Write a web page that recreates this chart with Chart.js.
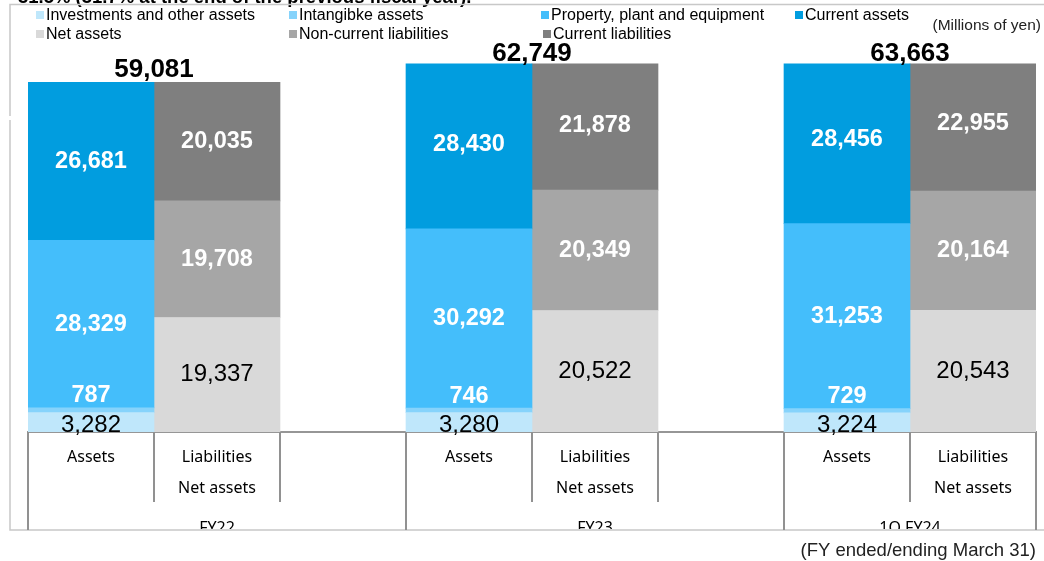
<!DOCTYPE html>
<html>
<head>
<meta charset="utf-8">
<script src="https://cdn.jsdelivr.net/npm/chart.js@4.4.1/dist/chart.umd.min.js"></script>
<style>
  html, body { margin: 0; padding: 0; background: #fff; }
  #wrap { position: relative; width: 1044px; height: 561px; }
</style>
</head>
<body>
<div id="wrap"><canvas id="c" width="1044" height="561"></canvas></div>
<script>
// ---- data (millions of yen) ----
const periods = ['FY22', 'FY23', '1Q FY24'];
const investments = [3282, 3280, 3224];
const intangible = [787, 746, 729];
const ppe = [28329, 30292, 31253];
const currentAssets = [26681, 28430, 28456];
const netAssets = [19337, 20522, 20543];
const nonCurrentLiab = [19708, 20349, 20164];
const currentLiab = [20035, 21878, 22955];
const totals = [59081, 62749, 63663];
const sideLabels = ['Assets', ['Liabilities', 'Net assets']];
const seriesNames = ['Investments and other assets', 'Intangibke assets', 'Property, plant and equipment', 'Current assets',
                     'Net assets', 'Non-current liabilities', 'Current liabilities'];
const titleText = '31.5% (31.7% at the end of the previous fiscal year).';
const unitText = '(Millions of yen)';
const noteText = '(FY ended/ending March 31)';

// ---- build category slots ----
const labels = [];
periods.forEach((p, i) => {
  labels.push(sideLabels[0], sideLabels[1]);
  if (i < periods.length - 1) labels.push('');
});
function slotData(arr, side) {
  const out = new Array(labels.length).fill(null);
  arr.forEach((v, i) => { out[i * 3 + side] = v; });
  return out;
}
const colors = ['#bfe7fb', '#86d3fb', '#44befb', '#019ddf', '#d9d9d9', '#a6a6a6', '#7f7f7f'];
const seriesArrays = [investments, intangible, ppe, currentAssets, netAssets, nonCurrentLiab, currentLiab];
const sides = [0, 0, 0, 0, 1, 1, 1];
const labelStyle = ['dark', 'above', 'white', 'white', 'dark', 'white', 'white'];

const datasets = seriesArrays.map((arr, k) => ({
  label: seriesNames[k],
  data: slotData(arr, sides[k]),
  backgroundColor: colors[k],
  borderWidth: 0,
  barPercentage: 1.0,
  categoryPercentage: 1.0,
  stack: 's'
}));

const fmt = v => v.toLocaleString('en-US');
const ARIAL = "'Liberation Sans', Arial, sans-serif";
const TICKFONT = "'Noto Sans', sans-serif";

const overlay = {
  id: 'overlay',
  afterDatasetsDraw(chart) {
    const ctx = chart.ctx;
    ctx.save();
    ctx.textAlign = 'center';
    ctx.textBaseline = 'middle';
    chart.data.datasets.forEach((ds, k) => {
      const meta = chart.getDatasetMeta(k);
      meta.data.forEach((el, i) => {
        const v = ds.data[i];
        if (v == null) return;
        const style = labelStyle[k];
        let y = (el.y + el.base) / 2;
        if (style === 'white') {
          ctx.fillStyle = '#ffffff';
          ctx.font = 'bold 23.5px ' + ARIAL;
        } else if (style === 'above') {
          ctx.fillStyle = '#ffffff';
          ctx.font = 'bold 23.5px ' + ARIAL;
          y = el.y - 12;
        } else {
          ctx.fillStyle = '#000000';
          ctx.font = '24px ' + ARIAL;
          if (k === 0) y += 3;
        }
        ctx.fillText(fmt(v), el.x, y);
      });
    });
    // totals
    const xs = chart.scales.x, ys = chart.scales.y;
    ctx.fillStyle = '#000';
    ctx.font = 'bold 26px ' + ARIAL;
    totals.forEach((t, i) => {
      const x = (xs.getPixelForValue(i * 3) + xs.getPixelForValue(i * 3 + 1)) / 2;
      const raw = ys.getPixelForValue(t);
      const clipped = raw < chart.chartArea.top;
      const top = clipped ? chart.chartArea.top : raw;
      ctx.fillText(fmt(t), x, top - (clipped ? 10 : 12));
    });
    ctx.restore();
  },
  afterDraw(chart) {
    const ctx = chart.ctx;
    const xs = chart.scales.x;
    const area = chart.chartArea;
    const half = (xs.getPixelForValue(1) - xs.getPixelForValue(0)) / 2;
    ctx.save();
    // title (cut off at top)
    ctx.fillStyle = '#000';
    ctx.font = 'bold 18.5px ' + ARIAL;
    ctx.textAlign = 'left';
    ctx.textBaseline = 'alphabetic';
    ctx.fillText(titleText, 18, 2.5);
    // outer frame
    ctx.strokeStyle = '#c8c8c8';
    ctx.lineWidth = 1.5;
    ctx.beginPath();
    ctx.moveTo(1044, 4.5); ctx.lineTo(10, 4.5); ctx.lineTo(10, 116);
    ctx.moveTo(10, 120); ctx.lineTo(10, 530); ctx.lineTo(1044, 530);
    ctx.stroke();
    // category separator lines
    ctx.strokeStyle = '#919191';
    ctx.lineWidth = 2;
    ctx.beginPath();
    for (let i = 0; i <= labels.length; i++) {
      const x = i < labels.length ? xs.getPixelForValue(i) - half : xs.getPixelForValue(labels.length - 1) + half;
      const isGroup = (i % 3 === 0) || i === labels.length;
      ctx.moveTo(x, area.bottom);
      ctx.lineTo(x, isGroup ? 530 : 502);
    }
    ctx.stroke();
    // group labels (clipped by frame bottom)
    ctx.save();
    ctx.beginPath();
    ctx.rect(0, 0, 1044, 529);
    ctx.clip();
    ctx.fillStyle = '#000';
    ctx.font = '16px ' + TICKFONT;
    ctx.textAlign = 'center';
    ctx.textBaseline = 'alphabetic';
    periods.forEach((p, i) => {
      const first = xs.getPixelForValue(i * 3) - half;
      const lastIdx = Math.min(i * 3 + 2, labels.length - 1);
      const last = xs.getPixelForValue(lastIdx) + half;
      ctx.fillText(p, (first + last) / 2, 533);
    });
    ctx.restore();
    // legend
    const legendPos = [[36, 15], [289, 15], [541, 15], [795, 15], [36, 34], [289, 34], [543, 34]];
    ctx.font = '16px ' + ARIAL;
    ctx.textAlign = 'left';
    ctx.textBaseline = 'middle';
    seriesNames.forEach((n, k) => {
      const [x, y] = legendPos[k];
      ctx.fillStyle = colors[k];
      ctx.fillRect(x, y - 4, 8, 8);
      ctx.fillStyle = '#000';
      ctx.fillText(n, x + 10, y + 1);
    });
    // unit & note
    ctx.fillStyle = '#222';
    ctx.textAlign = 'right';
    ctx.font = '15.5px ' + ARIAL;
    ctx.fillText(unitText, 1041, 26);
    ctx.font = '18.5px ' + ARIAL;
    ctx.fillText(noteText, 1036, 551);
    ctx.restore();
  }
};

new Chart(document.getElementById('c'), {
  type: 'bar',
  data: { labels, datasets },
  options: {
    responsive: false,
    animation: false,
    devicePixelRatio: 1,
    layout: { padding: { left: 28, right: 8, top: 63.5, bottom: 0 } },
    plugins: { legend: { display: false }, tooltip: { enabled: false }, title: { display: false } },
    scales: {
      x: {
        stacked: true,
        grid: { display: false },
        border: { display: true, color: '#969696', width: 2 },
        ticks: {
          autoSkip: false, maxRotation: 0, minRotation: 0, padding: 2, color: '#000',
          font: { family: TICKFONT, size: 16, lineHeight: 1.93 }
        },
        afterFit(s) { s.height = 129; }
      },
      y: {
        stacked: true,
        display: false,
        min: 0,
        max: 62250
      }
    }
  },
  plugins: [overlay]
});
</script>
</body>
</html>
